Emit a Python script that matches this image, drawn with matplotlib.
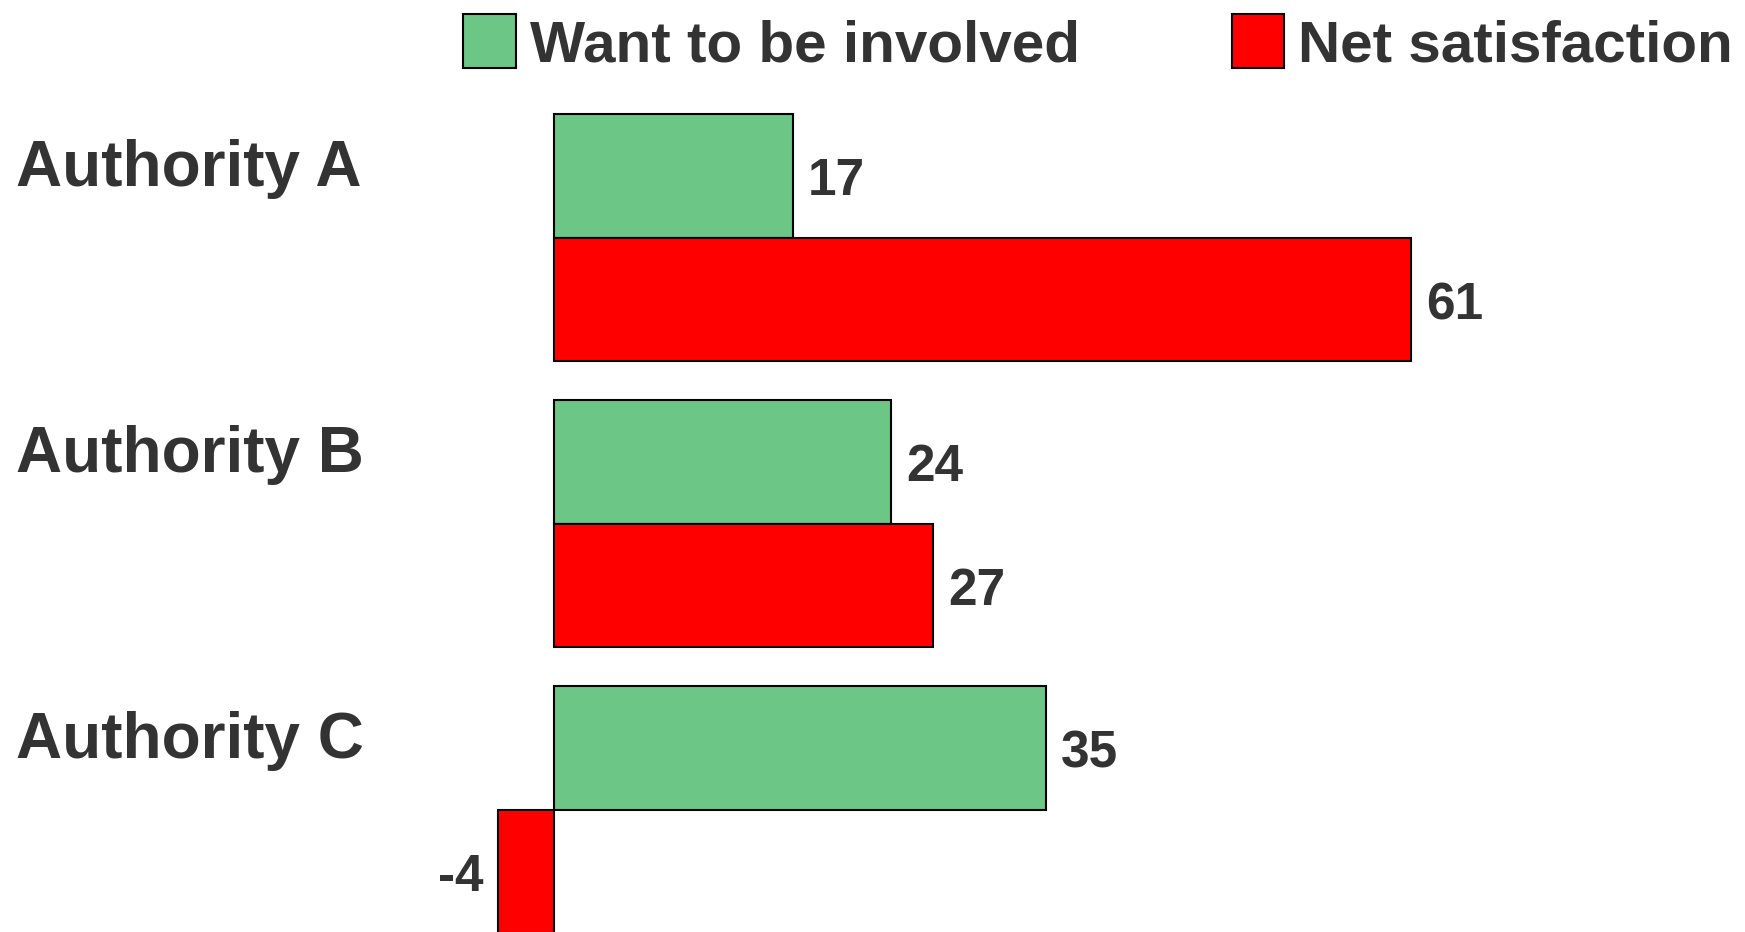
import numpy as np
import matplotlib.pyplot as plt
from matplotlib.patches import Patch

plt.rcParams['font.family'] = ['Liberation Sans', 'DejaVu Sans']
plt.rcParams['font.weight'] = 'bold'

authorities = ['Authority A', 'Authority B', 'Authority C']
want_involved = [17, 24, 35]
net_satisfaction = [61, 27, -4]

green = '#6cc686'
red = '#ff0000'
txt = '#333333'

fig = plt.figure(figsize=(17.45, 9.32), dpi=100)
ax = fig.add_axes([0, 0, 1, 1])

y = np.arange(len(authorities))
h = 0.433
ax.barh(y - h/2, want_involved, height=h, color=green, edgecolor='black', linewidth=1.5)
ax.barh(y + h/2, net_satisfaction, height=h, color=red, edgecolor='black', linewidth=1.5)

ax.set_xlim(-39.43, 84.77)
ax.set_ylim(2.428, -0.831)
ax.axis('off')

# category names sit a little above the green bar centre
for i, name in enumerate(authorities):
    ax.text(-38.3, i - h/2 + 0.036, name, fontsize=46, color=txt, va='baseline', ha='left')

for vals, off in ((want_involved, -h/2), (net_satisfaction, h/2)):
    for i, v in enumerate(vals):
        if v >= 0:
            ax.annotate(str(v), (v, i + off + 0.068), xytext=(11, 0), textcoords='offset points',
                        fontsize=37, color=txt, ha='left', va='baseline')
        else:
            ax.annotate(str(v), (v, i + off + 0.068), xytext=(-10, 0), textcoords='offset points',
                        fontsize=37, color=txt, ha='right', va='baseline')

handles = [Patch(facecolor=green, edgecolor='black', linewidth=1.5, label='Want to be involved'),
           Patch(facecolor=red, edgecolor='black', linewidth=1.5, label='Net satisfaction')]
leg = fig.legend(handles=handles, loc='center right', bbox_to_anchor=(0.993, 0.953), ncol=2,
                 frameon=False, fontsize=42, handlelength=0.9, handleheight=1.05,
                 handletextpad=0.24, columnspacing=2.6, borderpad=0, borderaxespad=0)
for t in leg.get_texts():
    t.set_color(txt)

fig.savefig('out.png', dpi=100)
